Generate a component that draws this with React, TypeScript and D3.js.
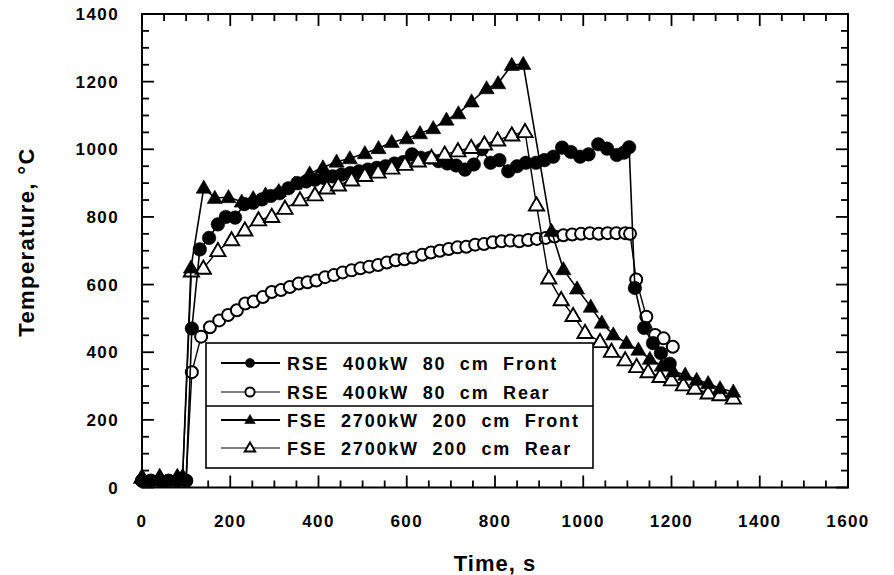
import React from "react";
import * as d3 from "d3";

type Pt = [number, number];

const rseFront: Pt[] = [
  [0, 20], [20, 20], [40, 20], [60, 20], [80, 20], [100, 20],
  [113, 470], [131, 704], [152, 738], [172, 778], [190, 800], [211, 798],
  [232, 838], [252, 842], [272, 852], [292, 862], [312, 870], [332, 885],
  [352, 900], [372, 905], [392, 910], [412, 915], [432, 920], [452, 925],
  [472, 930], [492, 935], [512, 940], [532, 945], [552, 950], [572, 958],
  [592, 962], [612, 985], [632, 975], [652, 975], [672, 965], [692, 958],
  [712, 952], [732, 940], [752, 955], [770, 1000], [790, 960], [810, 968],
  [830, 935], [850, 950], [870, 960], [893, 960], [912, 968], [932, 978],
  [952, 1005], [972, 992], [993, 978], [1012, 985], [1034, 1015],
  [1054, 1002], [1076, 983], [1092, 990], [1104, 1006],
  [1117, 590], [1138, 472], [1158, 427], [1176, 397], [1196, 366],
];

const rseRear: Pt[] = [
  [0, 20], [20, 20], [40, 20], [60, 20], [80, 20], [100, 20],
  [113, 341], [134, 446], [154, 474], [175, 494], [195, 510], [215, 524],
  [234, 544], [253, 550], [274, 563], [294, 578], [315, 584], [335, 593],
  [355, 603], [375, 607], [395, 612], [415, 622], [435, 628], [455, 636],
  [475, 642], [495, 648], [515, 653], [535, 658], [555, 665], [575, 672],
  [595, 675], [615, 680], [635, 688], [655, 695], [675, 700], [695, 705],
  [715, 710], [735, 712], [755, 718], [775, 720], [795, 725], [815, 728],
  [835, 730], [855, 728], [875, 732], [895, 735], [915, 738], [935, 742],
  [955, 746], [975, 748], [995, 750], [1015, 752], [1035, 750],
  [1055, 752], [1075, 752], [1095, 752], [1106, 750],
  [1120, 615], [1143, 505], [1163, 451], [1182, 441], [1203, 416],
];

const fseFront: Pt[] = [
  [0, 30], [40, 30], [80, 30], [92, 30],
  [111, 650], [140, 886], [165, 856], [196, 858], [226, 845], [252, 855],
  [280, 866], [310, 876], [346, 898], [380, 928], [410, 946], [441, 963],
  [471, 973], [505, 988], [536, 1003], [566, 1021], [600, 1032],
  [630, 1047], [660, 1062], [690, 1087], [717, 1106], [747, 1141],
  [781, 1180], [807, 1195], [838, 1249], [864, 1252],
  [928, 758], [955, 645], [986, 588], [1017, 534], [1042, 487],
  [1068, 452], [1098, 427], [1125, 407], [1151, 380], [1178, 360],
  [1204, 343], [1231, 333], [1257, 318], [1283, 308], [1310, 293],
  [1340, 283],
];

const fseRear: Pt[] = [
  [0, 30], [40, 30], [80, 30], [92, 30],
  [112, 640], [139, 648], [172, 700], [203, 732], [233, 761], [264, 791],
  [294, 801], [324, 825], [358, 850], [392, 865], [419, 885], [445, 894],
  [475, 909], [505, 922], [535, 932], [566, 944], [596, 955], [626, 965],
  [656, 975], [686, 985], [716, 995], [746, 1005], [776, 1015],
  [806, 1027], [838, 1042], [868, 1052],
  [894, 835], [922, 619], [950, 555], [977, 508], [1004, 458],
  [1038, 431], [1064, 402], [1095, 377], [1121, 357], [1147, 342],
  [1174, 328], [1200, 318], [1227, 303], [1253, 293], [1283, 279],
  [1310, 274], [1340, 264],
];

const legendLabels = [
  "RSE  400kW  80  cm  Front",
  "RSE  400kW  80  cm  Rear",
  "FSE  2700kW  200  cm  Front",
  "FSE  2700kW  200  cm  Rear",
];

const xTicks = [0, 200, 400, 600, 800, 1000, 1200, 1400, 1600];
const yTicks = [0, 200, 400, 600, 800, 1000, 1200, 1400];
const xMinor = d3.range(0, 1601, 50);
const yMinor = d3.range(0, 1401, 50);

const W = 894;
const H = 575;
const FONT = "'Liberation Sans', Arial, Helvetica, sans-serif";

const x = d3.scaleLinear().domain([0, 1600]).range([142, 848]);
const y = d3.scaleLinear().domain([0, 1400]).range([487.5, 14]);

const line = d3
  .line<Pt>()
  .x((d) => x(d[0]))
  .y((d) => y(d[1]));

const triPath = d3.symbol().type(d3.symbolTriangle).size(100)() as string;
const triPathSmall = d3.symbol().type(d3.symbolTriangle).size(48)() as string;

type Kind = "fc" | "oc" | "ft" | "ot";

function Marker({ cx, cy, kind, small }: { cx: number; cy: number; kind: Kind; small?: boolean }) {
  const open = kind === "oc" || kind === "ot";
  const fill = open ? "#fff" : "#000";
  if (kind === "fc" || kind === "oc") {
    const r = small ? 4.6 : kind === "fc" ? 6.8 : 6.0;
    return <circle cx={cx} cy={cy} r={r} fill={fill} stroke="#000" strokeWidth={open ? 2 : 0.5} />;
  }
  return (
    <path
      d={small ? triPathSmall : triPath}
      transform={`translate(${cx},${cy + (small ? 0.5 : 1)})`}
      fill={fill}
      stroke="#000"
      strokeWidth={open ? 1.9 : 0.6}
      strokeLinejoin="miter"
    />
  );
}

const series: { data: Pt[]; kind: Kind; sw: number }[] = [
  { data: rseRear, kind: "oc", sw: 1.4 },
  { data: rseFront, kind: "fc", sw: 1.6 },
  { data: fseRear, kind: "ot", sw: 1.4 },
  { data: fseFront, kind: "ft", sw: 1.6 },
];

export default function App() {
  const legX = 206, legY = 343, legW = 387, legH = 125;
  const rows = [363, 392, 420, 448];
  return (
    <svg
      width={W}
      height={H}
      viewBox={`0 0 ${W} ${H}`}
      style={{ position: "absolute", left: 0, top: 0, background: "#fff" }}
    >
      <rect x={0} y={0} width={W} height={H} fill="#fff" />
      {series.map((s, i) => (
        <g key={i}>
          <path d={line(s.data) as string} fill="none" stroke="#000" strokeWidth={s.sw} />
          {s.data.map((d, j) => (
            <Marker key={j} cx={x(d[0])} cy={y(d[1])} kind={s.kind} />
          ))}
        </g>
      ))}

      <rect x={142} y={14} width={706} height={473.5} fill="none" stroke="#000" strokeWidth={2} />
      {xMinor.map((t) => {
        const major = t % 200 === 0;
        const len = major ? 12 : 7;
        return (
          <g key={"x" + t}>
            <line x1={x(t)} x2={x(t)} y1={487.5} y2={487.5 - len} stroke="#000" strokeWidth={1.8} />
            <line x1={x(t)} x2={x(t)} y1={14} y2={14 + len} stroke="#000" strokeWidth={1.8} />
          </g>
        );
      })}
      {yMinor.map((v) => {
        const major = v % 200 === 0;
        const len = major ? 12 : 7;
        return (
          <g key={"y" + v}>
            <line x1={142} x2={142 + len} y1={y(v)} y2={y(v)} stroke="#000" strokeWidth={1.8} />
            <line x1={848} x2={848 - len} y1={y(v)} y2={y(v)} stroke="#000" strokeWidth={1.8} />
          </g>
        );
      })}
      {xTicks.map((t) => (
        <text
          key={"xl" + t}
          x={x(t)}
          y={527}
          textAnchor="middle"
          fontFamily={FONT}
          fontWeight="bold"
          fontSize={17}
          letterSpacing={1.4}
        >
          {t}
        </text>
      ))}
      {yTicks.map((v) => (
        <text
          key={"yl" + v}
          x={119}
          y={y(v) + 6}
          textAnchor="end"
          fontFamily={FONT}
          fontWeight="bold"
          fontSize={17}
          letterSpacing={1.4}
        >
          {v}
        </text>
      ))}
      <text
        x={495}
        y={571}
        textAnchor="middle"
        fontFamily={FONT}
        fontWeight="bold"
        fontSize={22}
        letterSpacing={1}
      >
        Time, s
      </text>
      <text
        transform={`translate(34,242) rotate(-90)`}
        textAnchor="middle"
        fontFamily={FONT}
        fontWeight="bold"
        fontSize={22}
        letterSpacing={1.4}
      >
        {"Temperature,  °C"}
      </text>

      <rect x={legX} y={legY} width={legW} height={legH} fill="#fff" stroke="#000" strokeWidth={1.6} />
      <line x1={legX} x2={legX + legW} y1={406} y2={406} stroke="#000" strokeWidth={1.4} />
      {legendLabels.map((lab, i) => {
        const kind: Kind = (["fc", "oc", "ft", "ot"] as Kind[])[i];
        const ry = rows[i];
        return (
          <g key={"lg" + i}>
            <line x1={221} x2={280} y1={ry} y2={ry} stroke="#000" strokeWidth={i % 2 === 0 ? 1.8 : 1.2} />
            <Marker cx={250} cy={ry} kind={kind} small />
            <text
              x={287}
              y={ry + 6.5}
              fontFamily={FONT}
              fontWeight="bold"
              fontSize={18}
              letterSpacing={1.8}
              style={{ whiteSpace: "pre" }}
            >
              {lab}
            </text>
          </g>
        );
      })}
    </svg>
  );
}
